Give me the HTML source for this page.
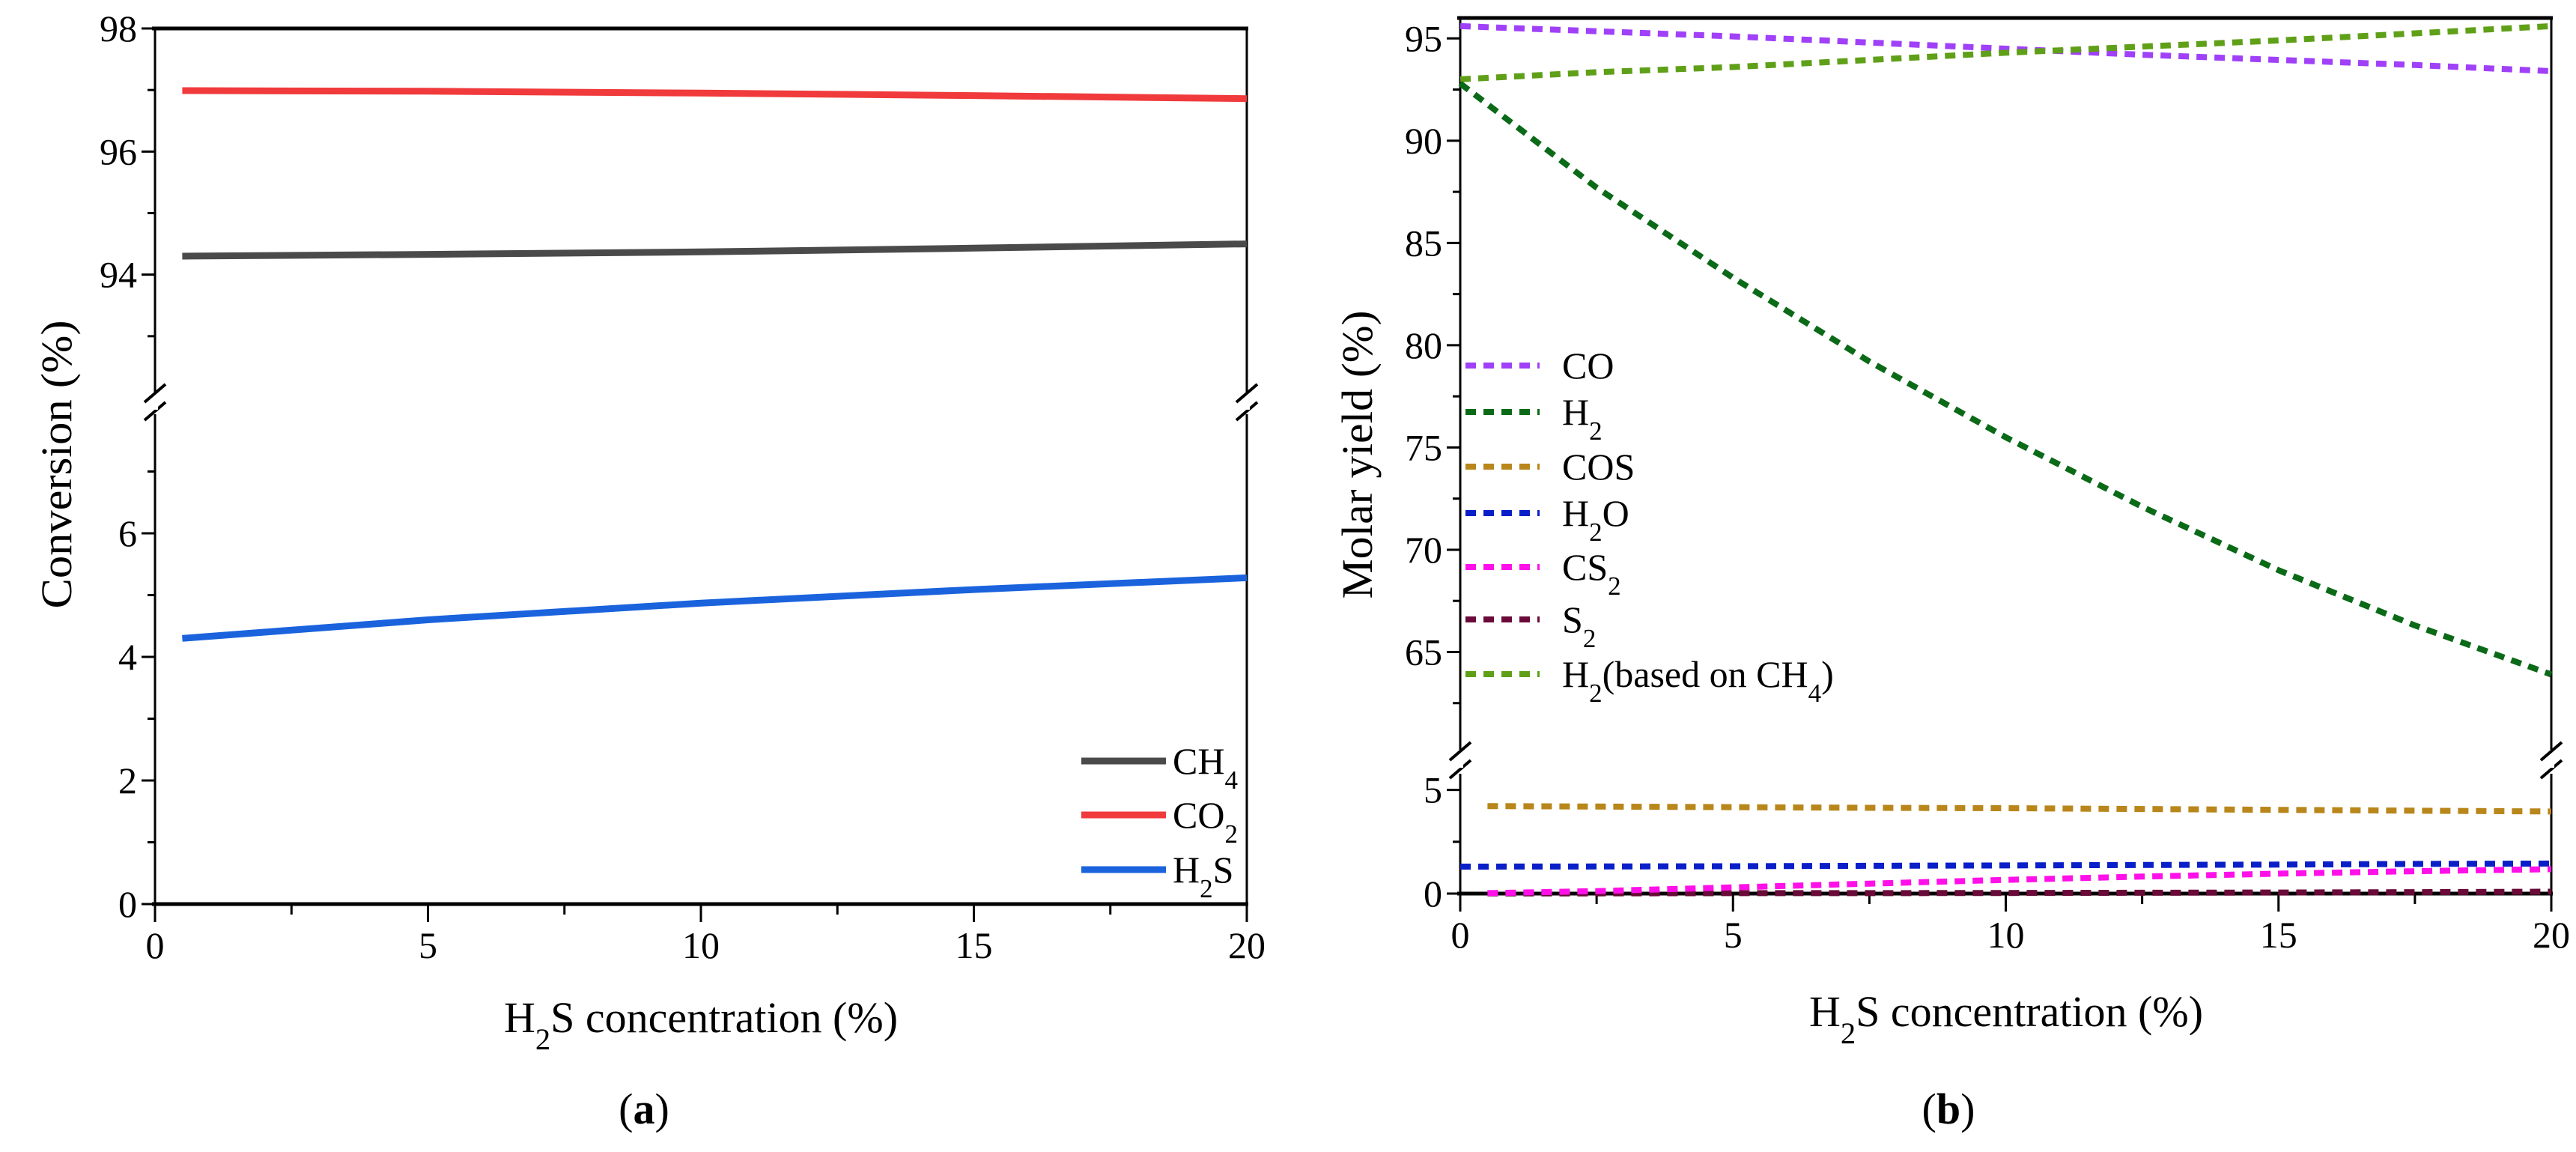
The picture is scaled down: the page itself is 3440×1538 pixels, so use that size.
<!DOCTYPE html>
<html><head><meta charset="utf-8">
<style>
html,body{margin:0;padding:0;background:#fff;}
svg{display:block;}
.tk{font-family:"Liberation Serif",serif;font-size:50px;fill:#000;}
.ttl{font-family:"Liberation Serif",serif;font-size:58px;fill:#000;}
.yt{font-family:"Liberation Serif",serif;font-size:58px;fill:#000;}
</style></head>
<body>
<svg id="fig" width="3440" height="1538" viewBox="0 0 3440 1538" xmlns="http://www.w3.org/2000/svg"></svg>
<script>
// ---- Panel (a) data ----
const xA = [0.5, 5, 10, 15, 20];
const ch4 = [94.30, 94.33, 94.37, 94.43, 94.50];
const co2 = [96.99, 96.98, 96.95, 96.91, 96.86];
const h2sConv = [4.30, 4.60, 4.87, 5.09, 5.28];
const ticksA_upper = [94, 96, 98];
const ticksA_lower = [0, 2, 4, 6];
const ticksX = [0, 5, 10, 15, 20];

// ---- Panel (b) data ----
const xB = [0.5, 2.5, 5, 7.5, 10, 12.5, 15, 17.5, 20];
const xB0 = [0, 2.5, 5, 7.5, 10, 12.5, 15, 17.5, 20];
const coY = [95.6, 95.35, 95.1, 94.8, 94.5, 94.2, 93.95, 93.7, 93.4];
const h2Y = [92.8, 87.7, 83.3, 79.2, 75.5, 72.1, 69.0, 66.3, 63.9];
const h2ch4Y = [93.0, 93.35, 93.6, 93.95, 94.3, 94.6, 94.9, 95.25, 95.6];
const cosY = [4.22, 4.2, 4.17, 4.14, 4.12, 4.08, 4.04, 4.0, 3.96];
const h2oY = [1.30, 1.31, 1.32, 1.34, 1.36, 1.38, 1.40, 1.43, 1.45];
const cs2Y = [0.02, 0.12, 0.30, 0.48, 0.66, 0.82, 0.96, 1.08, 1.18];
const s2Y = [0.01, 0.01, 0.02, 0.02, 0.03, 0.04, 0.05, 0.07, 0.09];
const ticksB_upper = [65, 70, 75, 80, 85, 90, 95];
const ticksB_lower = [0, 5];

const NS = "http://www.w3.org/2000/svg";
const svg = document.getElementById('fig');
function mk(tag, attrs, parent) {
  const e = document.createElementNS(NS, tag);
  for (const k in attrs) e.setAttribute(k, attrs[k]);
  (parent || svg).appendChild(e);
  return e;
}
function lin(d0, d1, r0, r1) { return v => r0 + (v - d0) * (r1 - r0) / (d1 - d0); }

function subText(parent, x, y, parts, cls, name) {
  const t = mk('text', {x: x, y: y, class: cls}, parent);
  
  
  parts.forEach(p => {
    const s = document.createElementNS(NS, 'tspan');
    s.textContent = p[0];
    if (p[1]) { s.setAttribute('baseline-shift', 'sub'); s.setAttribute('font-size', '70%'); }
    t.appendChild(s);
  });
  return t;
}

function panel(cfg) {
  const g = mk('g', {});
  
  
  const X = lin(0, 20, cfg.x0, cfg.x1);
  const YU = lin(cfg.uMin, cfg.uMax, cfg.uBot, cfg.uTop);
  const YL = lin(cfg.lMin, cfg.lMax, cfg.lBot, cfg.lTop);
  const ax = mk('g', {stroke: '#000', fill: 'none'}, g);
  
  
  mk('line', {x1: cfg.x0 - 4, y1: cfg.uTop, x2: cfg.x1 + 2, y2: cfg.uTop, 'stroke-width': 5}, ax);
  mk('line', {x1: cfg.x0 - 4, y1: cfg.lBot, x2: cfg.x1 + 2, y2: cfg.lBot, 'stroke-width': 5}, ax);
  [cfg.x0, cfg.x1].forEach(x => {
    mk('line', {x1: x, y1: cfg.uTop, x2: x, y2: cfg.uBot - 6, 'stroke-width': 3}, ax);
    mk('line', {x1: x, y1: cfg.lTop + 6, x2: x, y2: cfg.lBot, 'stroke-width': 3}, ax);
    const my = (cfg.uBot + cfg.lTop) / 2;
    mk('line', {x1: x - 14, y1: my - 2, x2: x + 14, y2: my - 26, 'stroke-width': 4}, ax);
    mk('line', {x1: x - 14, y1: my + 22, x2: x + 14, y2: my - 2, 'stroke-width': 4}, ax);
    mk('rect', {x: x - 4, y: my - 8, width: 8, height: 16, fill: '#fff', stroke: 'none'}, ax);
  });
  ticksX.forEach(v => {
    mk('line', {x1: X(v), y1: cfg.lBot, x2: X(v), y2: cfg.lBot + 24, 'stroke-width': 3}, ax);
    const t = mk('text', {x: X(v), y: cfg.lBot + 72, class: 'tk', 'text-anchor': 'middle'}, g);
    t.textContent = v;
    
    
  });
  for (let v = 2.5; v < 20; v += 5) mk('line', {x1: X(v), y1: cfg.lBot, x2: X(v), y2: cfg.lBot + 14, 'stroke-width': 3}, ax);
  cfg.tU.forEach(v => {
    mk('line', {x1: cfg.x0 - 18, y1: YU(v), x2: cfg.x0, y2: YU(v), 'stroke-width': 3}, ax);
    const t = mk('text', {x: cfg.x0 - 24, y: YU(v) + 17, class: 'tk', 'text-anchor': 'end'}, g);
    t.textContent = v;
    
    
  });
  cfg.mU.forEach(v => mk('line', {x1: cfg.x0 - 10, y1: YU(v), x2: cfg.x0, y2: YU(v), 'stroke-width': 3}, ax));
  cfg.tL.forEach(v => {
    mk('line', {x1: cfg.x0 - 18, y1: YL(v), x2: cfg.x0, y2: YL(v), 'stroke-width': 3}, ax);
    const t = mk('text', {x: cfg.x0 - 24, y: YL(v) + 17, class: 'tk', 'text-anchor': 'end'}, g);
    t.textContent = v;
    
    
  });
  cfg.mL.forEach(v => mk('line', {x1: cfg.x0 - 10, y1: YL(v), x2: cfg.x0, y2: YL(v), 'stroke-width': 3}, ax));
  const xt = subText(g, cfg.xtX, cfg.xtY, [['H'], ['2', 1], ['S concentration (%)']], 'ttl', 'x-axis-title');
  xt.setAttribute('text-anchor', 'middle');
  const yt = mk('text', {x: 0, y: 0, class: 'yt', 'text-anchor': 'middle', textLength: 385, lengthAdjust: 'spacingAndGlyphs', transform: `translate(${cfg.ytX},${cfg.ytY}) rotate(-90)`}, g);
  yt.textContent = cfg.ytitle;
  
  
  const lab = mk('text', {x: cfg.labX, y: cfg.labY, class: 'ttl', 'text-anchor': 'middle', 'font-size': 64}, g);
  lab.textContent = '(' ; const b = document.createElementNS(NS, 'tspan'); b.setAttribute('font-weight', 'bold'); b.textContent = cfg.lab; lab.appendChild(b);
  lab.appendChild(document.createTextNode(')'));
  
  
  return {g, X, YU, YL};
}

function path(p, xs, ys, Y, color, dashed, name) {
  const d = xs.map((x, i) => (i ? 'L' : 'M') + p.X(x).toFixed(1) + ',' + Y(ys[i]).toFixed(1)).join(' ');
  const e = mk('path', {d: d, fill: 'none', stroke: color, 'stroke-width': dashed ? 8 : 9, 'stroke-linejoin': 'round'}, p.g);
  if (dashed) e.setAttribute('stroke-dasharray', '14 10');
  
  
}

function legend(p, x1, x2, tx, y, color, dashed, parts, name) {
  const lg = mk('g', {}, p.g);
  
  
  const l = mk('line', {x1: x1, y1: y, x2: x2, y2: y, stroke: color, 'stroke-width': dashed ? 8 : 9}, lg);
  if (dashed) l.setAttribute('stroke-dasharray', '14 10');
  subText(lg, tx, y + 17, parts, 'tk', name + '-label');
}

const pA = panel({name: 'panel-a', x0: 207, x1: 1665, uMin: 92, uMax: 98, uBot: 531, uTop: 38,
  lMin: 0, lMax: 8, lBot: 1207, lTop: 547, tU: ticksA_upper, mU: [93, 95, 97], tL: ticksA_lower, mL: [1, 3, 5, 7],
  xtX: 936, xtY: 1378, ytX: 95, ytY: 620, ytitle: 'Conversion (%)', labX: 860, labY: 1500, lab: 'a'});
path(pA, xA, co2, pA.YU, '#f03a3c', false, 'line-co2');
path(pA, xA, ch4, pA.YU, '#4a4a4a', false, 'line-ch4');
path(pA, xA, h2sConv, pA.YL, '#1a63dd', false, 'line-h2s');
legend(pA, 1444, 1557, 1566, 1016, '#4a4a4a', false, [['CH'], ['4', 1]], 'legend-ch4');
legend(pA, 1444, 1557, 1566, 1088, '#f03a3c', false, [['CO'], ['2', 1]], 'legend-co2');
legend(pA, 1444, 1557, 1566, 1161, '#1a63dd', false, [['H'], ['2', 1], ['S']], 'legend-h2s');

const pB = panel({name: 'panel-b', x0: 1950, x1: 3407, uMin: 60, uMax: 96, uBot: 1007, uTop: 24,
  lMin: 0, lMax: 6, lBot: 1193, lTop: 1027, tU: ticksB_upper, mU: [62.5, 67.5, 72.5, 77.5, 82.5, 87.5, 92.5], tL: ticksB_lower, mL: [2.5],
  xtX: 2679, xtY: 1370, ytX: 1832, ytY: 607, ytitle: 'Molar yield (%)', labX: 2602, labY: 1500, lab: 'b'});
path(pB, xB0, coY, pB.YU, '#a040f8', true, 'line-co');
path(pB, xB0, h2ch4Y, pB.YU, '#5fa018', true, 'line-h2-based-on-ch4');
path(pB, xB0, h2Y, pB.YU, '#0b6a17', true, 'line-h2');
path(pB, xB, cosY, pB.YL, '#b8861a', true, 'line-cos');
path(pB, xB0, h2oY, pB.YL, '#0a1fc8', true, 'line-h2o');
path(pB, xB, s2Y, pB.YL, '#6a0a38', true, 'line-s2');
path(pB, xB, cs2Y, pB.YL, '#ff10e8', true, 'line-cs2');
legend(pB, 1957, 2056, 2086, 488, '#a040f8', true, [['CO']], 'legend-co');
legend(pB, 1957, 2056, 2086, 550, '#0b6a17', true, [['H'], ['2', 1]], 'legend-h2');
legend(pB, 1957, 2056, 2086, 623, '#b8861a', true, [['COS']], 'legend-cos');
legend(pB, 1957, 2056, 2086, 685, '#0a1fc8', true, [['H'], ['2', 1], ['O']], 'legend-h2o');
legend(pB, 1957, 2056, 2086, 757, '#ff10e8', true, [['CS'], ['2', 1]], 'legend-cs2');
legend(pB, 1957, 2056, 2086, 827, '#6a0a38', true, [['S'], ['2', 1]], 'legend-s2');
legend(pB, 1957, 2056, 2086, 900, '#5fa018', true, [['H'], ['2', 1], ['(based on CH'], ['4', 1], [')']], 'legend-h2-based-on-ch4');
</script>
</body></html>
